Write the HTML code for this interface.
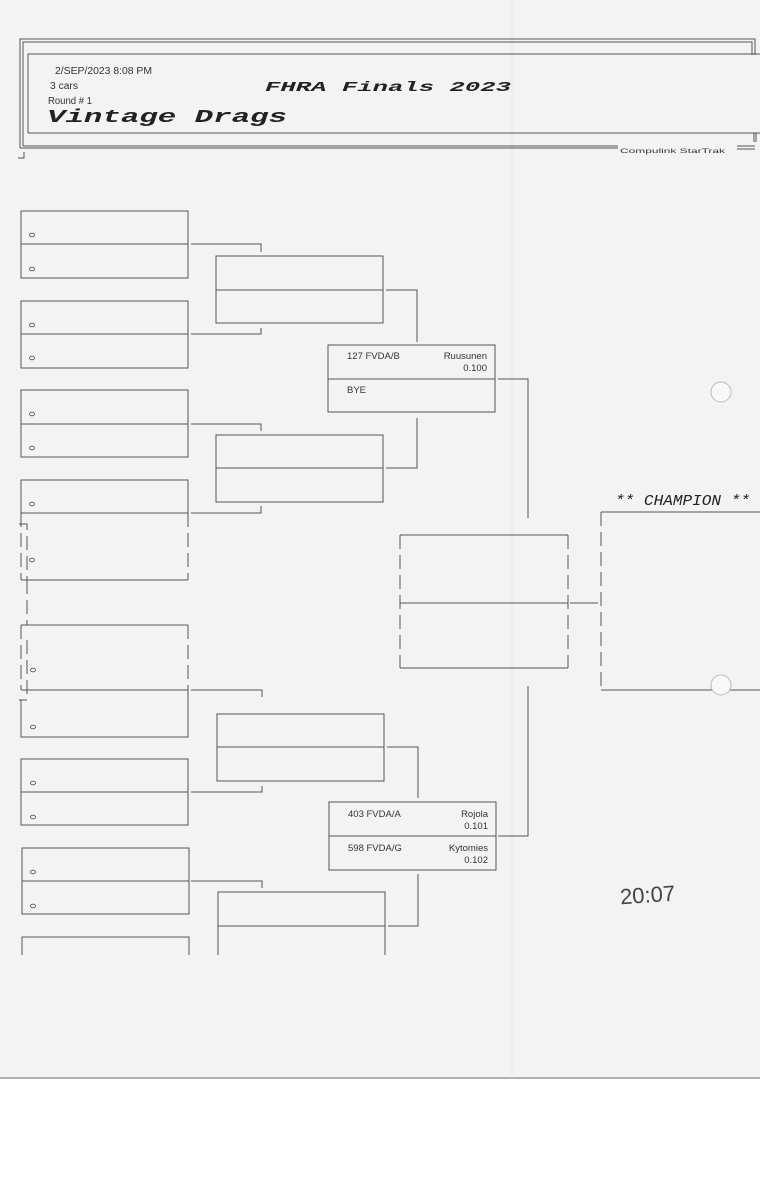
<!DOCTYPE html>
<html><head><meta charset="utf-8"><style>
html,body{margin:0;padding:0;background:#fff}
svg{display:block}
.t{font-family:"Liberation Sans",sans-serif;fill:#333}
.m{font-family:"Liberation Mono",monospace;font-weight:bold;font-style:italic;fill:#222}
</style></head><body>
<svg width="760" height="1200" viewBox="0 0 760 1200" xmlns="http://www.w3.org/2000/svg">
<rect x="0" y="0" width="760" height="1078" fill="#f3f3f3"/>
<line x1="0" y1="1078" x2="760" y2="1078" stroke="#999" stroke-width="1.5"/>
<line x1="512" y1="0" x2="512" y2="1078" stroke="#e8e8e8" stroke-width="1"/>
<g stroke="#555" stroke-width="1" fill="none">
<path d="M20 148 V39 H755 V55"/>
<path d="M23 146 V42 H752 V55"/>
<path d="M20 148 H618 M23 146 H618"/>
<path d="M737 146 H755 M737 149 H755"/>
<path d="M28 133 V54 H760 M28 133 H760"/>
<path d="M754 133 V142 M756 133 V142"/>
<path d="M18 158 H24 V152"/>
</g>
<text class="t" x="55" y="74" font-size="10" textLength="97" lengthAdjust="spacingAndGlyphs">2/SEP/2023    8:08 PM</text>
<text class="t" x="50" y="89" font-size="10" textLength="28" lengthAdjust="spacingAndGlyphs">3 cars</text>
<text class="t" x="48" y="104" font-size="10" textLength="44" lengthAdjust="spacingAndGlyphs">Round # 1</text>
<text class="m" x="47" y="122" font-size="18" textLength="240" lengthAdjust="spacingAndGlyphs">Vintage Drags</text>
<text class="m" x="265" y="91" font-size="14" textLength="246" lengthAdjust="spacingAndGlyphs">FHRA Finals 2023</text>
<text class="t" x="620" y="153" font-size="6" textLength="105" lengthAdjust="spacingAndGlyphs">Compulink  StarTrak</text>

<g stroke="#555" stroke-width="1" fill="none">
<rect x="21" y="211" width="167" height="67"/><line x1="21" y1="244" x2="188" y2="244"/>
<rect x="21" y="301" width="167" height="67"/><line x1="21" y1="334" x2="188" y2="334"/>
<rect x="21" y="390" width="167" height="67"/><line x1="21" y1="424" x2="188" y2="424"/>
<path d="M21 513 V480 H188 V513"/><line x1="21" y1="513" x2="188" y2="513"/>
<path d="M21 513 V580 M188 513 V580" stroke-dasharray="14 6"/>
<line x1="21" y1="580" x2="188" y2="580"/>
<path d="M19 524 H27 V580 M27 580 V625" stroke-dasharray="14 6"/>
<line x1="21" y1="625" x2="188" y2="625"/>
<path d="M21 625 V690 M188 625 V690" stroke-dasharray="14 6"/><line x1="21" y1="690" x2="188" y2="690"/>
<path d="M27 640 V700 H19" stroke-dasharray="14 6"/>
<path d="M21 700 V737 H188 V690"/>
<rect x="21" y="759" width="167" height="66"/><line x1="21" y1="792" x2="188" y2="792"/>
<rect x="22" y="848" width="167" height="66"/><line x1="22" y1="881" x2="189" y2="881"/>
<path d="M22 955 V937 H189 V955"/>
<path d="M191 244 H261 V252"/>
<path d="M191 334 H261 V328"/>
<path d="M191 424 H261 V431"/>
<path d="M191 513 H261 V506"/>
<path d="M191 690 H262 V697"/>
<path d="M191 792 H262 V786"/>
<path d="M191 881 H262 V888"/>
<rect x="216" y="256" width="167" height="67"/><line x1="216" y1="290" x2="383" y2="290"/>
<rect x="216" y="435" width="167" height="67"/><line x1="216" y1="468" x2="383" y2="468"/>
<rect x="217" y="714" width="167" height="67"/><line x1="217" y1="747" x2="384" y2="747"/>
<path d="M218 955 V892 H385 V955"/><line x1="218" y1="926" x2="385" y2="926"/>
<path d="M386 290 H417 V342"/>
<path d="M386 468 H417 V418"/>
<path d="M387 747 H418 V798"/>
<path d="M388 926 H418 V874"/>
<rect x="328" y="345" width="167" height="67"/><line x1="328" y1="379" x2="495" y2="379"/>
<rect x="329" y="802" width="167" height="68"/><line x1="329" y1="836" x2="496" y2="836"/>
<path d="M498 379 H528 V518"/>
<path d="M498 836 H528 V686"/>
<path d="M400 535 H568 M400 668 H568"/>
<path d="M400 535 V668 M568 535 V668" stroke-dasharray="14 6"/>
<line x1="400" y1="603" x2="568" y2="603"/>
<line x1="570" y1="603" x2="598" y2="603"/>
<path d="M601 512 H760 M601 690 H760"/>
<path d="M601 512 V690" stroke-dasharray="14 6"/>
</g>
<g fill="none" stroke="#555" stroke-width="0.9">
<ellipse cx="32" cy="235" rx="2.5" ry="1.8"/><ellipse cx="32" cy="269" rx="2.5" ry="1.8"/>
<ellipse cx="32" cy="325" rx="2.5" ry="1.8"/><ellipse cx="32" cy="358" rx="2.5" ry="1.8"/>
<ellipse cx="32" cy="414" rx="2.5" ry="1.8"/><ellipse cx="32" cy="448" rx="2.5" ry="1.8"/>
<ellipse cx="32" cy="504" rx="2.5" ry="1.8"/><ellipse cx="32" cy="560" rx="2.5" ry="1.8"/>
<ellipse cx="33" cy="670" rx="2.5" ry="1.8"/><ellipse cx="33" cy="727" rx="2.5" ry="1.8"/>
<ellipse cx="33" cy="783" rx="2.5" ry="1.8"/><ellipse cx="33" cy="817" rx="2.5" ry="1.8"/>
<ellipse cx="33" cy="872" rx="2.5" ry="1.8"/><ellipse cx="33" cy="906" rx="2.5" ry="1.8"/>
</g>
<circle cx="721" cy="392" r="10" fill="#f8f8f8" stroke="#bbb"/>
<circle cx="721" cy="685" r="10" fill="#f8f8f8" stroke="#bbb"/>
<g class="t" font-size="9.5">
<text x="347" y="359">127 FVDA/B</text>
<text x="487" y="359" text-anchor="end">Ruusunen</text>
<text x="487" y="371" text-anchor="end">0.100</text>
<text x="347" y="393">BYE</text>
<text x="348" y="817">403 FVDA/A</text>
<text x="488" y="817" text-anchor="end">Rojola</text>
<text x="488" y="829" text-anchor="end">0.101</text>
<text x="348" y="851">598 FVDA/G</text>
<text x="488" y="851" text-anchor="end">Kytomies</text>
<text x="488" y="863" text-anchor="end">0.102</text>
</g>
<text x="615" y="505" font-family="Liberation Mono,monospace" font-style="italic" font-size="15" fill="#222" textLength="135" lengthAdjust="spacingAndGlyphs">** CHAMPION **</text>
<text x="620" y="903" font-family="Liberation Sans,sans-serif" font-size="22" fill="#444" transform="rotate(-4 640 895)">20:07</text>
</svg>
</body></html>
